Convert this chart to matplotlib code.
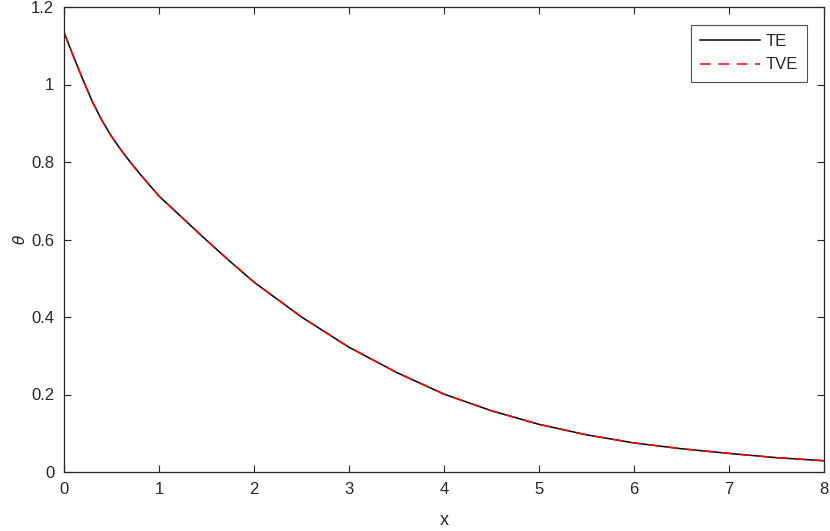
import matplotlib
matplotlib.use("Agg")
import matplotlib.pyplot as plt

plt.rcParams['font.family'] = ['Liberation Sans', 'DejaVu Sans']

x = [0, 0.1, 0.2, 0.3, 0.4, 0.5, 0.6, 0.7, 0.8, 1.0, 1.25, 1.5, 1.75, 2.0, 2.5,
     3.0, 3.5, 4.0, 4.5, 5.0, 5.5, 6.0, 6.5, 7.0, 7.5, 8.0]
theta_te = [1.135, 1.072, 1.012, 0.955, 0.907, 0.866, 0.831, 0.799, 0.769, 0.712,
            0.655, 0.598, 0.543, 0.490, 0.400, 0.322, 0.257, 0.201, 0.158,
            0.123, 0.096, 0.075, 0.060, 0.048, 0.037, 0.029]
theta_tve = list(theta_te)

xticks = [0, 1, 2, 3, 4, 5, 6, 7, 8]
yticks = [0, 0.2, 0.4, 0.6, 0.8, 1.0, 1.2]
yticklabels = ['0', '0.2', '0.4', '0.6', '0.8', '1', '1.2']

fig = plt.figure(figsize=(8.3, 5.31), dpi=100)
ax = fig.add_axes([64/830, 59/531, 760/830, 465/531])

ax.plot(x, theta_te, color='black', lw=1.1, label='TE')
ax.plot(x, theta_tve, color='#ff0000', lw=1.1, dashes=(7, 5), label='TVE')

ax.set_xlim(0, 8)
ax.set_ylim(0, 1.2)
ax.set_xticks(xticks)
ax.set_xticklabels([str(t) for t in xticks])
ax.set_yticks(yticks)
ax.set_yticklabels(yticklabels)
axcol = '#262626'
ax.tick_params(direction='in', length=5, width=0.8, top=True, right=True,
               labelsize=12, colors=axcol, pad=7)
for s in ax.spines.values():
    s.set_color(axcol)
    s.set_linewidth(0.9)

ax.set_xlabel('x', fontsize=13, color=axcol)
ax.set_ylabel(r'$\theta$', fontsize=11, color=axcol)
ax.xaxis.set_label_coords(0.5, -0.085)
ax.yaxis.set_label_coords(-0.048, 0.5)

leg = ax.legend(loc='upper right', bbox_to_anchor=(0.9775, 0.9613), fontsize=12,
                handlelength=3.6, handletextpad=0.3, borderpad=0.55,
                labelspacing=0.5, frameon=True, fancybox=False,
                borderaxespad=0)
leg.get_frame().set_edgecolor(axcol)
leg.get_frame().set_linewidth(0.8)
for t in leg.get_texts():
    t.set_color(axcol)

fig.savefig('out.png', dpi=100)
